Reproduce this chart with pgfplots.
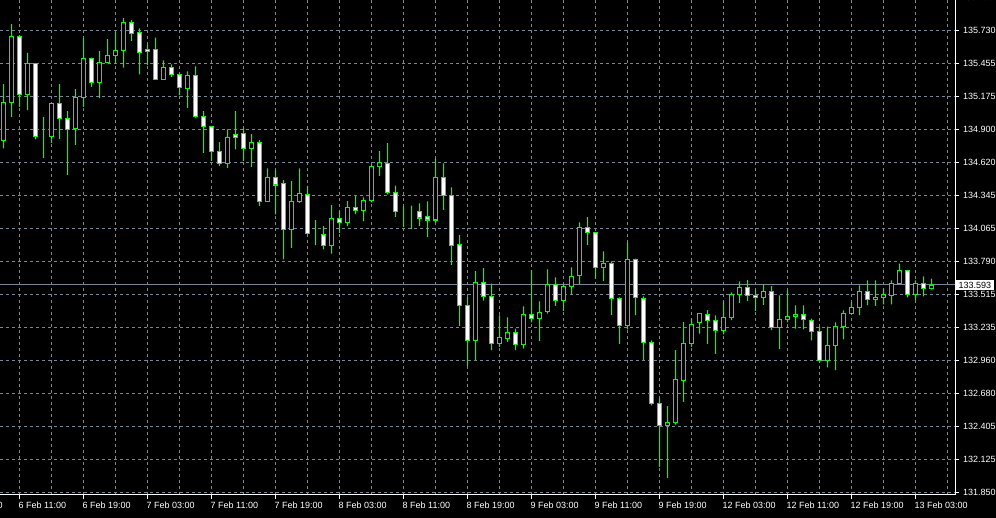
\documentclass[border=0pt]{standalone}
\usepackage{pgfplots}
\pgfplotsset{compat=1.18}
\usepackage{pgfplotstable}
\usepackage{fontspec}
\setmainfont{Liberation Sans}

\definecolor{mtgreen}{RGB}{0,255,0}
\definecolor{lsg}{RGB}{119,136,153}

% hourly candles, k = bar index (6 Feb 09:00 = 0)
\pgfplotstableread{
k o h l c
0 134.806 135.279 134.739 135.125
1 135.125 135.783 135.004 135.680
2 135.680 135.691 135.088 135.193
3 135.193 135.542 135.061 135.453
4 135.453 135.453 134.815 134.837
5 134.840 135.002 134.660 134.840
6 134.837 135.117 134.786 135.117
7 135.117 135.279 134.820 134.991
8 134.991 135.052 134.517 134.899
9 134.907 135.237 134.769 135.167
10 135.167 135.665 135.088 135.495
11 135.495 135.503 135.256 135.293
12 135.293 135.556 135.162 135.461
13 135.461 135.657 135.461 135.520
14 135.520 135.716 135.450 135.562
15 135.562 135.833 135.419 135.797
16 135.797 135.817 135.643 135.705
17 135.713 135.747 135.361 135.545
18 135.571 135.613 135.439 135.554
19 135.571 135.671 135.319 135.319
20 135.319 135.478 135.319 135.419
21 135.419 135.445 135.340 135.361
22 135.361 135.361 135.187 135.251
23 135.243 135.386 135.080 135.352
24 135.352 135.428 134.999 135.008
25 135.008 135.052 134.702 134.924
26 134.924 134.924 134.635 134.714
27 134.714 134.792 134.593 134.613
28 134.613 134.899 134.576 134.831
29 134.857 135.052 134.731 134.831
30 134.865 134.910 134.635 134.739
31 134.739 134.859 134.585 134.789
32 134.789 134.809 134.257 134.294
33 134.294 134.571 134.294 134.496
34 134.496 134.557 134.185 134.433
35 134.445 134.473 133.807 134.059
36 134.059 134.464 133.904 134.294
37 134.294 134.571 134.282 134.361
38 134.353 134.425 134.025 134.025
39 134.022 134.137 133.927 134.022
40 134.017 134.087 133.891 133.924
41 133.924 134.263 133.857 134.151
42 134.151 134.213 134.030 134.118
43 134.118 134.296 134.087 134.244
44 134.244 134.338 134.187 134.218
45 134.218 134.328 134.129 134.302
46 134.302 134.605 134.286 134.588
47 134.588 134.716 134.509 134.622
48 134.613 134.784 134.353 134.370
49 134.370 134.428 134.165 134.210
50 134.215 134.252 134.081 134.215
51 134.215 134.260 134.064 134.215
52 134.210 134.277 134.089 134.156
53 134.168 134.294 133.997 134.139
54 134.139 134.649 134.123 134.496
55 134.496 134.613 134.223 134.344
56 134.344 134.412 133.762 133.924
57 133.933 134.011 133.249 133.421
58 133.421 133.493 132.911 133.127
59 133.127 133.709 132.961 133.614
60 133.614 133.734 133.461 133.496
61 133.496 133.605 133.045 133.101
62 133.101 133.337 133.073 133.152
63 133.143 133.320 133.115 133.194
64 133.194 133.227 133.045 133.093
65 133.093 133.412 133.059 133.345
66 133.345 133.717 133.278 133.311
67 133.311 133.454 133.123 133.362
68 133.370 133.723 133.353 133.597
69 133.597 133.656 133.417 133.463
70 133.463 133.605 133.375 133.580
71 133.580 133.740 133.513 133.664
72 133.672 134.118 133.602 134.076
73 134.076 134.162 133.929 134.034
74 134.034 134.034 133.647 133.740
75 133.740 133.874 133.627 133.773
76 133.773 133.790 133.342 133.479
77 133.479 133.488 133.098 133.253
78 133.253 133.950 133.219 133.807
79 133.807 133.815 133.339 133.488
80 133.479 133.496 132.961 133.110
81 133.110 133.127 132.581 132.598
82 132.598 132.640 132.065 132.413
83 132.413 132.575 131.973 132.438
84 132.438 133.045 132.421 132.799
85 132.791 133.280 132.611 133.101
86 133.101 133.311 133.073 133.261
87 133.278 133.353 133.185 133.353
88 133.345 133.381 133.098 133.295
89 133.295 133.337 133.014 133.211
90 133.211 133.454 133.177 133.320
91 133.320 133.530 133.297 133.513
92 133.513 133.622 133.442 133.572
93 133.572 133.633 133.459 133.505
94 133.505 133.547 133.375 133.488
95 133.488 133.597 133.426 133.538
96 133.538 133.583 133.213 133.236
97 133.236 133.505 133.056 133.303
98 133.303 133.547 133.278 133.328
99 133.328 133.421 133.227 133.345
100 133.345 133.421 133.219 133.303
101 133.295 133.311 133.127 133.202
102 133.202 133.244 132.953 132.961
103 132.961 133.244 132.900 133.085
104 133.085 133.278 132.877 133.244
105 133.244 133.379 133.135 133.353
106 133.353 133.448 133.345 133.404
107 133.404 133.589 133.339 133.538
108 133.538 133.631 133.423 133.471
109 133.471 133.631 133.417 133.488
110 133.488 133.563 133.429 133.513
111 133.507 133.631 133.429 133.605
112 133.605 133.773 133.605 133.714
113 133.714 133.714 133.488 133.513
114 133.513 133.631 133.463 133.605
115 133.605 133.664 133.496 133.563
116 133.563 133.647 133.555 133.593
}\candles

\pgfplotsset{
  mtframe/.style={
    at={(0bp,23bp)}, anchor=south west, scale only axis,
    width=955bp, height=495bp,
    xmin=-0.4375, xmax=118.9375,
    ymin=131.829, ymax=135.98615,
  },
}

\begin{document}
\begin{tikzpicture}[x=1bp,y=1bp]
\path[use as bounding box, fill=black] (0,0) rectangle (996,518);

% grid, frame, labels, bid line
\begin{axis}[mtframe,
  axis x line*=bottom, axis y line*=right,
  axis line style={white, line width=1bp, -},
  tick align=outside, major tick length=4bp, minor tick length=0pt,
  tick style={white, line width=1bp},
  xtick={2,10,...,114},
  xticklabels={6 Feb 11:00,6 Feb 19:00,7 Feb 03:00,7 Feb 11:00,7 Feb 19:00,8 Feb 03:00,8 Feb 11:00,8 Feb 19:00,9 Feb 03:00,9 Feb 11:00,9 Feb 19:00,12 Feb 03:00,12 Feb 11:00,12 Feb 19:00,13 Feb 03:00},
  minor xtick={6,14,...,118},
  ytick={131.8500,132.1271,132.4043,132.6814,132.9586,133.2357,133.5129,133.7900,134.0671,134.3443,134.6214,134.8986,135.1757,135.4529,135.7300},
  yticklabels={131.850,132.125,132.405,132.680,132.960,133.235,133.515,133.790,134.065,134.345,134.620,134.900,135.175,135.455,135.730},
  grid=both,
  major grid style={draw=lsg, line width=1bp, dash pattern=on 3bp off 3bp},
  minor grid style={draw=lsg, line width=1bp, dash pattern=on 3bp off 3bp},
  tick label style={white, font=\fontsize{9bp}{10bp}\selectfont, inner sep=0pt},
  xticklabel style={anchor=north west, xshift=-1bp, yshift=-3bp},
  yticklabel style={anchor=west, xshift=4bp},
]
\addplot[lsg, line width=1bp, forget plot] coordinates {(-1,133.593) (120,133.593)};
\coordinate (bid) at (axis cs:118.9375,133.593);
\coordinate (toplab) at (axis cs:118.9375,136.0071);
\end{axis}

% wicks: low -> high as thin stacked bars
\begin{axis}[mtframe, hide axis, ybar stacked, bar width=1.4bp]
\addplot[draw=none, fill=none] table[x=k, y=l] {\candles};
\addplot[draw=none, fill=mtgreen] table[x=k, y expr={\thisrow{h}-\thisrow{l}}] {\candles};
\end{axis}

% candle bodies: white = falling hour, black = rising hour
\begin{axis}[mtframe, hide axis, ybar stacked, bar width=4bp]
\addplot[draw=none, fill=none] table[x=k, y expr={min(\thisrow{o},\thisrow{c})}] {\candles};
\addplot[draw=mtgreen, fill=white, line width=1.3bp] table[x=k, y expr={max(\thisrow{o}-\thisrow{c},0)}] {\candles};
\addplot[draw=mtgreen, fill=black, line width=1.3bp] table[x=k, y expr={max(\thisrow{c}-\thisrow{o},0)}] {\candles};
\end{axis}

\node[anchor=west, fill=white, text=black, inner xsep=2.5bp, inner ysep=2bp,
  font=\fontsize{9bp}{10bp}\selectfont] at ([xshift=1bp]bid) {133.593};
\node[anchor=west, inner sep=0pt, white, font=\fontsize{9bp}{10bp}\selectfont]
  at ([xshift=6bp]toplab) {136.005};
\node[anchor=north west, inner sep=0pt, white, font=\fontsize{9bp}{10bp}\selectfont]
  at (-45.5,16) {6 Feb 03:00};
\end{tikzpicture}
\end{document}
